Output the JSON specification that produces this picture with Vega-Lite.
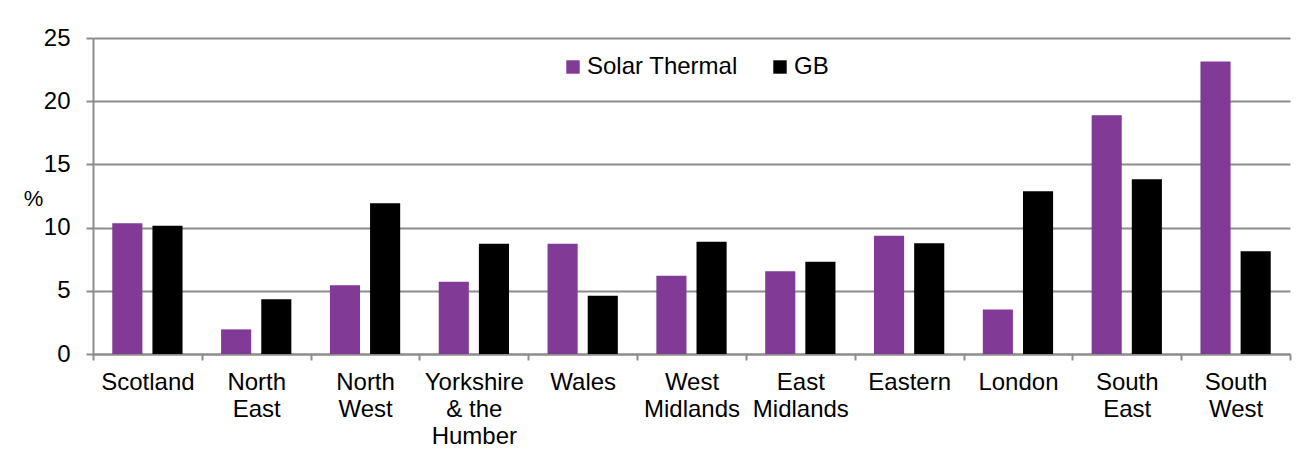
{
  "$schema": "https://vega.github.io/schema/vega-lite/v6.json",
  "autosize": "none",
  "width": 1197,
  "height": 316,
  "padding": {"left": 93, "top": 38, "right": 11, "bottom": 96},
  "background": "white",
  "config": {
    "view": {"stroke": null},
    "font": "Liberation Sans"
  },
  "data": {
    "values": [
      {"region": "Scotland", "series": "Solar Thermal", "value": 10.34},
      {"region": "Scotland", "series": "GB", "value": 10.15},
      {"region": "North East", "series": "Solar Thermal", "value": 1.95},
      {"region": "North East", "series": "GB", "value": 4.33},
      {"region": "North West", "series": "Solar Thermal", "value": 5.43},
      {"region": "North West", "series": "GB", "value": 11.92},
      {"region": "Yorkshire & the Humber", "series": "Solar Thermal", "value": 5.72},
      {"region": "Yorkshire & the Humber", "series": "GB", "value": 8.73},
      {"region": "Wales", "series": "Solar Thermal", "value": 8.73},
      {"region": "Wales", "series": "GB", "value": 4.61},
      {"region": "West Midlands", "series": "Solar Thermal", "value": 6.2},
      {"region": "West Midlands", "series": "GB", "value": 8.89},
      {"region": "East Midlands", "series": "Solar Thermal", "value": 6.54},
      {"region": "East Midlands", "series": "GB", "value": 7.3},
      {"region": "Eastern", "series": "Solar Thermal", "value": 9.36},
      {"region": "Eastern", "series": "GB", "value": 8.76},
      {"region": "London", "series": "Solar Thermal", "value": 3.53},
      {"region": "London", "series": "GB", "value": 12.87},
      {"region": "South East", "series": "Solar Thermal", "value": 18.88},
      {"region": "South East", "series": "GB", "value": 13.82},
      {"region": "South West", "series": "Solar Thermal", "value": 23.15},
      {"region": "South West", "series": "GB", "value": 8.12}
    ]
  },
  "mark": {"type": "bar"},
  "encoding": {
    "x": {
      "field": "region",
      "type": "nominal",
      "sort": null,
      "scale": {"paddingInner": 0, "paddingOuter": 0},
      "axis": {
        "title": null,
        "labelAngle": 0,
        "labelFont": "Liberation Sans",
        "labelFontSize": 24,
        "labelColor": "#000000",
        "labelLineHeight": 27,
        "labelBaseline": "top",
        "labelPadding": 10,
        "labelExpr": "datum.label == 'Yorkshire & the Humber' ? ['Yorkshire', '& the', 'Humber'] : split(datum.label, ' ')",
        "tickBand": "extent",
        "tickColor": "#8c8c8c",
        "tickWidth": 2,
        "tickSize": 6,
        "domainColor": "#8c8c8c",
        "domainWidth": 2,
        "grid": false
      }
    },
    "xOffset": {
      "field": "series",
      "type": "nominal",
      "sort": ["Solar Thermal", "GB"],
      "scale": {"paddingInner": 0.25, "paddingOuter": 0.48}
    },
    "y": {
      "field": "value",
      "type": "quantitative",
      "scale": {"domain": [0, 25]},
      "axis": {
        "title": "%",
        "titleAngle": 0,
        "titleFont": "Liberation Sans",
        "titleFontSize": 22,
        "titleFontWeight": "normal",
        "titleColor": "#000000",
        "titleX": -60,
        "titleY": 172,
        "values": [0, 5, 10, 15, 20, 25],
        "labelFont": "Liberation Sans",
        "labelFontSize": 24,
        "labelColor": "#000000",
        "labelPadding": 16,
        "tickColor": "#8c8c8c",
        "tickWidth": 2,
        "tickSize": 7,
        "domainColor": "#8c8c8c",
        "domainWidth": 2,
        "gridColor": "#8c8c8c",
        "gridWidth": 2
      }
    },
    "color": {
      "field": "series",
      "type": "nominal",
      "sort": ["Solar Thermal", "GB"],
      "scale": {"domain": ["Solar Thermal", "GB"], "range": ["#813A96", "#000000"]},
      "legend": {
        "title": null,
        "orient": "none",
        "legendX": 468,
        "legendY": 17,
        "direction": "horizontal",
        "symbolType": "square",
        "symbolSize": 180,
        "symbolStrokeWidth": 0,
        "labelFont": "Liberation Sans",
        "labelFontSize": 24,
        "labelColor": "#000000",
        "labelOffset": 2,
        "columnPadding": 30
      }
    }
  }
}
